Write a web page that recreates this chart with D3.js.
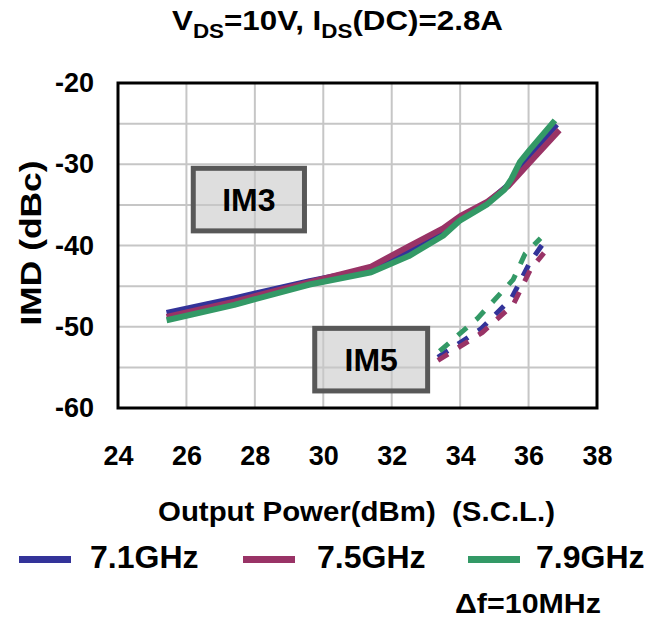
<!DOCTYPE html>
<html><head><meta charset="utf-8">
<script src="https://cdn.jsdelivr.net/npm/d3@7"></script>
<style>
body{margin:0;background:#fff}
text{font-family:"Liberation Sans",Arial,Helvetica,sans-serif;font-weight:bold;fill:#000}
</style>
</head><body>
<svg id="c" width="666" height="619"></svg>
<script>
// ---- data ----
const xTicks = [24, 26, 28, 30, 32, 34, 36, 38];
const yTickLabels = [-20, -30, -40, -50, -60];
const yGrid = [-25, -30, -35, -40, -45, -50, -55];
const seriesNames = ["7.1GHz", "7.5GHz", "7.9GHz"];
const seriesColors = ["#333399", "#993366", "#339966"];

// IM3 (solid)  [Pout dBm, IMD dBc]
const im3_71 = [[25.42,-48.3],[27.4,-46.5],[29.6,-44.4],[31.4,-42.9],[32.5,-40.6],[33.5,-38.2],[34.0,-36.6],[34.8,-34.7],[35.4,-32.6],[35.9,-29.9],[36.2,-28.3],[36.82,-25.1]];
const im3_75 = [[25.42,-48.8],[27.4,-46.9],[29.6,-44.5],[31.4,-42.6],[32.5,-40.1],[33.5,-37.9],[34.0,-36.4],[34.8,-34.6],[35.4,-32.7],[35.9,-30.4],[36.14,-29.3],[36.9,-25.8]];
const im3_79 = [[25.42,-49.2],[27.4,-47.3],[29.6,-44.8],[31.4,-43.3],[32.5,-41.3],[33.5,-38.8],[34.0,-36.9],[34.8,-34.9],[35.3,-33.1],[35.5,-31.8],[35.75,-29.7],[36.04,-28.2],[36.77,-24.6]];
// IM5 (dashed)
const im5_71 = [[33.35,-53.75],[34.6,-50.3],[35.5,-46.5],[36.05,-42.0],[36.4,-39.9]];
const im5_75 = [[33.35,-54.15],[34.65,-50.7],[35.55,-47.3],[36.05,-43.0],[36.45,-40.9]];
const im5_79 = [[33.4,-53.0],[34.5,-49.0],[35.55,-44.2],[35.9,-41.0],[36.35,-39.1]];

const im3Series = [im3_71, im3_75, im3_79];
const im5Series = [im5_71, im5_75, im5_79];

// ---- layout ----
const svg = d3.select("#c");
const L = 118, R = 597, T = 83, B = 408;
const x = d3.scaleLinear().domain([24, 38]).range([L, R]);
const y = d3.scaleLinear().domain([-60, -20]).range([B, T]);

// title
const title = svg.append("text").attr("x", 172).attr("y", 30).style("font-size", "28px")
  .attr("textLength", 331).attr("lengthAdjust", "spacingAndGlyphs");
title.append("tspan").text("V");
title.append("tspan").attr("dy", 8).style("font-size", "20px").text("DS");
title.append("tspan").attr("dy", -8).text("=10V, I");
title.append("tspan").attr("dy", 8).style("font-size", "20px").text("DS");
title.append("tspan").attr("dy", -8).text("(DC)=2.8A");

// grid
const g = svg.append("g");
g.selectAll(".vg").data(xTicks.slice(1, -1)).join("line")
  .attr("x1", d => x(d)).attr("x2", d => x(d)).attr("y1", T).attr("y2", B)
  .attr("stroke", "#c6c6c6").attr("stroke-width", 2);
g.selectAll(".hg").data(yGrid).join("line")
  .attr("y1", d => y(d)).attr("y2", d => y(d)).attr("x1", L).attr("x2", R)
  .attr("stroke", "#c6c6c6").attr("stroke-width", 2);

// label boxes
function labelBox(x0, y0, x1, y1, txt) {
  svg.append("rect").attr("x", x(x0)).attr("y", y(y0))
    .attr("width", x(x1) - x(x0)).attr("height", y(y1) - y(y0))
    .attr("fill", "rgba(200,200,200,0.6)").attr("stroke", "#585858").attr("stroke-width", 5);
  svg.append("text").attr("x", (x(x0) + x(x1)) / 2).attr("y", (y(y0) + y(y1)) / 2 + 11.5)
    .attr("text-anchor", "middle").style("font-size", "32px").text(txt);
}
labelBox(26.2, -30.5, 29.45, -38.2, "IM3");
labelBox(29.75, -50.2, 33.05, -57.9, "IM5");

// lines
const line = d3.line().x(d => x(d[0])).y(d => y(d[1]));
im3Series.forEach((s, i) => {
  svg.append("path").datum(s).attr("d", line).attr("fill", "none")
    .attr("stroke", seriesColors[i]).attr("stroke-width", 6).attr("stroke-linejoin", "round");
});
im5Series.forEach((s, i) => {
  svg.append("path").datum(s).attr("d", line).attr("fill", "none")
    .attr("stroke", seriesColors[i]).attr("stroke-width", 5)
    .attr("stroke-dasharray", "12,12");
});

// frame
svg.append("rect").attr("x", L).attr("y", T).attr("width", R - L).attr("height", B - T)
  .attr("fill", "none").attr("stroke", "#000").attr("stroke-width", 3);

// axes
const yAxis = d3.axisLeft(y).tickValues(yTickLabels).tickSize(0).tickPadding(24).tickFormat(d => String(d));
const ya = svg.append("g").attr("transform", `translate(${L},0)`).call(yAxis);
ya.select(".domain").remove();
ya.selectAll("text").style("font-size", "27px").style("font-family", null);

const xAxis = d3.axisBottom(x).tickValues(xTicks).tickSize(0).tickPadding(38).tickFormat(d => String(d));
const xa = svg.append("g").attr("transform", `translate(0,${B})`).call(xAxis);
xa.select(".domain").remove();
xa.selectAll("text").style("font-size", "27px").style("font-family", null);

// axis titles
svg.append("text").attr("transform", "translate(41,243) rotate(-90)")
  .attr("text-anchor", "middle").style("font-size", "29px")
  .attr("textLength", 165).attr("lengthAdjust", "spacingAndGlyphs").text("IMD (dBc)");
svg.append("text").attr("x", 158).attr("y", 521)
  .style("font-size", "27px").attr("xml:space", "preserve")
  .attr("textLength", 397).attr("lengthAdjust", "spacingAndGlyphs")
  .text("Output Power(dBm)  (S.C.L.)");

// legend
const legX = [19, 243, 468];
const legTX = [90, 317, 536];
seriesNames.forEach((n, i) => {
  svg.append("line").attr("x1", legX[i]).attr("x2", legX[i] + 52)
    .attr("y1", 559.5).attr("y2", 559.5).attr("stroke", seriesColors[i]).attr("stroke-width", 7);
  svg.append("text").attr("x", legTX[i]).attr("y", 568).style("font-size", "32px").text(n);
});
svg.append("text").attr("x", 455).attr("y", 613).style("font-size", "27px")
  .attr("textLength", 146).attr("lengthAdjust", "spacingAndGlyphs").text("Δf=10MHz");
</script>
</body></html>
